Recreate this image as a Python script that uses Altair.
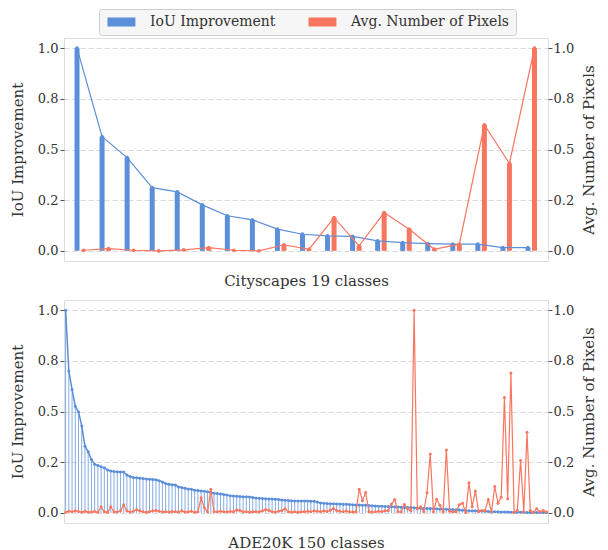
import altair as alt
import pandas as pd

BLUE = "#5b8fd9"
RED = "#f8765f"
FONT = "DejaVu Serif"
TXT = "#333333"

series_names = ["IoU Improvement", "Avg. Number of Pixels"]
panel_titles = ["Cityscapes 19 classes", "ADE20K 150 classes"]
yticks = [0, 0.25, 0.5, 0.75, 1.0]

city_iou = [1.0, 0.563, 0.46, 0.312, 0.291, 0.227, 0.173, 0.153, 0.107, 0.082,
            0.074, 0.071, 0.049, 0.041, 0.036, 0.033, 0.033, 0.016, 0.016]
city_pix = [0.003, 0.011, 0.003, 0.0, 0.005, 0.016, 0.003, 0.0, 0.03, 0.008,
            0.164, 0.025, 0.189, 0.107, 0.008, 0.033, 0.622, 0.431, 1.0]

ade_iou = [1.0, 0.70, 0.608, 0.526, 0.498, 0.429, 0.329, 0.301, 0.263, 0.24,
           0.234, 0.227, 0.222, 0.212, 0.207, 0.204, 0.203, 0.202, 0.201, 0.187,
           0.179, 0.175, 0.173, 0.171, 0.170, 0.167, 0.166, 0.165, 0.163, 0.158,
           0.152, 0.145, 0.141, 0.139, 0.137, 0.128, 0.125, 0.121, 0.118, 0.116,
           0.112, 0.110, 0.108, 0.106, 0.104, 0.101, 0.097, 0.095, 0.093, 0.091,
           0.088, 0.085, 0.083, 0.082, 0.081, 0.080, 0.079, 0.078, 0.076, 0.073,
           0.072, 0.071, 0.070, 0.069, 0.068, 0.067, 0.066, 0.064, 0.062, 0.061,
           0.060, 0.059, 0.058, 0.058, 0.058, 0.058, 0.057, 0.057, 0.053, 0.049,
           0.047, 0.046, 0.045, 0.045, 0.044, 0.044, 0.043, 0.042, 0.041, 0.040,
           0.039, 0.039, 0.038, 0.037, 0.036, 0.035, 0.034, 0.033, 0.033, 0.032,
           0.031, 0.030, 0.030, 0.029, 0.028, 0.027, 0.027, 0.026, 0.025, 0.024,
           0.023, 0.022, 0.021, 0.021, 0.020, 0.020, 0.019, 0.018, 0.018, 0.017,
           0.016, 0.015, 0.014, 0.013, 0.012, 0.011, 0.011, 0.010, 0.009, 0.009,
           0.008, 0.007, 0.006, 0.005, 0.005, 0.004, 0.004, 0.004, 0.003, 0.003,
           0.003, 0.003, 0.003, 0.002, 0.002, 0.002, 0.002, 0.002, 0.002, 0.002]
ade_pix = [0.003, 0.008, 0.005, 0.01, 0.007, 0.003, 0.008, 0.003, 0.005, 0.007,
           0.003, 0.03, 0.005, 0.003, 0.03, 0.006, 0.004, 0.01, 0.04, 0.01,
           0.004, 0.008, 0.015, 0.01, 0.005, 0.003, 0.006, 0.01, 0.012, 0.008,
           0.005, 0.006, 0.004, 0.007, 0.005, 0.004, 0.01, 0.004, 0.006, 0.008,
           0.003, 0.005, 0.074, 0.025, 0.004, 0.117, 0.005, 0.006, 0.008, 0.006,
           0.005, 0.007, 0.006, 0.014, 0.012, 0.006, 0.005, 0.004, 0.006, 0.005,
           0.006, 0.01, 0.016, 0.012, 0.006, 0.004, 0.008, 0.012, 0.02, 0.006,
           0.004, 0.005, 0.003, 0.006, 0.005, 0.008, 0.006, 0.01, 0.008, 0.006,
           0.01, 0.007, 0.013, 0.022, 0.012, 0.008, 0.006, 0.009, 0.005, 0.004,
           0.006, 0.117, 0.06, 0.1, 0.006, 0.004, 0.005, 0.008, 0.006, 0.01,
           0.012, 0.044, 0.066, 0.005, 0.005, 0.041, 0.02, 0.01, 1.0, 0.02,
           0.03, 0.005, 0.099, 0.29, 0.005, 0.067, 0.038, 0.005, 0.31, 0.008,
           0.005, 0.005, 0.04, 0.048, 0.002, 0.148, 0.03, 0.108, 0.005, 0.012,
           0.012, 0.066, 0.005, 0.13, 0.048, 0.077, 0.569, 0.07, 0.69, 0.002,
           0.012, 0.258, 0.005, 0.398, 0.012, 0.002, 0.02, 0.005, 0.012, 0.005]

W, H = 484, 223
label_expr = "datum.value == 0.25 ? '0.2' : format(datum.value, '.1f')"
ys = alt.Scale(domain=[-0.05, 1.05], nice=False, zero=False)


def yaxis(title, orient):
    left = orient == "left"
    return alt.Axis(title=title, orient=orient, values=yticks, labelExpr=label_expr,
                    grid=left, gridDash=[5, 3], gridColor="#d9d9d9",
                    gridWidth=1, domain=False, ticks=True, tickSize=4, tickColor="#555555",
                    labelFont=FONT, labelFontSize=13, labelColor=TXT,
                    labelPadding=2 if left else 1,
                    titleFont=FONT, titleFontSize=15, titleFontWeight="normal",
                    titleColor=TXT, titlePadding=12 if left else 8, titleAngle=270,
                    titleBaseline="bottom" if left else "top")


def xaxis(title):
    return alt.Axis(title=title, labels=False, ticks=False, domain=False, grid=False,
                    titleFont=FONT, titleFontSize=15, titleFontWeight="normal",
                    titleColor=TXT, titlePadding=12)


# ---------- Cityscapes panel ----------
top_df = pd.DataFrame({"i": list(range(len(city_iou))), "iou": city_iou, "pix": city_pix})
xs_top = alt.Scale(domain=[-0.45, 18.47], nice=False, zero=False)
tbase = alt.Chart(top_df)

bars = tbase.transform_fold(["iou", "pix"], as_=["key", "val"]).transform_calculate(
    series=f"datum.key == 'iou' ? '{series_names[0]}' : '{series_names[1]}'",
    xp="datum.key == 'iou' ? datum.i - 0.13 : datum.i + 0.13",
).mark_bar(width=5).encode(
    x=alt.X("xp:Q", scale=xs_top, axis=xaxis(panel_titles[0])),
    y=alt.Y("val:Q", scale=ys, axis=yaxis("IoU Improvement", "left")),
    y2=alt.datum(0),
    color=alt.Color("series:N", scale=alt.Scale(domain=series_names, range=[BLUE, RED]),
                    legend=alt.Legend(title=None, orient="none", legendX=35, legendY=-29,
                                      direction="horizontal",
                                      symbolType="M-1,-1L5.2,-1L5.2,1L-1,1Z",
                                      symbolSize=81, symbolStrokeWidth=0, symbolOpacity=1,
                                      labelFont=FONT, labelFontSize=14, labelColor=TXT,
                                      labelOffset=31, columnPadding=30, padding=6,
                                      strokeColor="#cccccc", fillColor="#f6f6f6",
                                      cornerRadius=3)),
)

blue_line = tbase.transform_calculate(xb="datum.i - 0.13").mark_line(
    color=BLUE, strokeWidth=1.2,
    point=alt.OverlayMarkDef(color=BLUE, size=14, filled=True, opacity=1),
).encode(
    x=alt.X("xb:Q", scale=xs_top, axis=xaxis(panel_titles[0])),
    y=alt.Y("iou:Q", scale=ys, axis=None),
)

red_line = tbase.transform_calculate(xr="datum.i + 0.13").mark_line(
    color=RED, strokeWidth=1.2,
    point=alt.OverlayMarkDef(color=RED, size=14, filled=True, opacity=1),
).encode(
    x=alt.X("xr:Q", scale=xs_top, axis=xaxis(panel_titles[0])),
    y=alt.Y("pix:Q", scale=ys, axis=yaxis("Avg. Number of Pixels", "right")),
)

top = alt.layer(bars, blue_line, red_line).resolve_scale(y="independent").properties(
    width=W, height=H)

# ---------- ADE20K panel ----------
bot_df = pd.DataFrame({"i": list(range(len(ade_iou))), "iou": ade_iou, "pix": ade_pix})
xs_bot = alt.Scale(domain=[-0.5, 149.5], nice=False, zero=False)
bbase = alt.Chart(bot_df)

stems = bbase.mark_rule(color=BLUE, strokeWidth=1, opacity=0.75).encode(
    x=alt.X("i:Q", scale=xs_bot, axis=xaxis(panel_titles[1])),
    y=alt.Y("iou:Q", scale=ys, axis=yaxis("IoU Improvement", "left")),
    y2=alt.datum(0),
)
b_line = bbase.mark_line(
    color=BLUE, strokeWidth=1.5,
    point=alt.OverlayMarkDef(color=BLUE, size=9, filled=True, opacity=1),
).encode(
    x=alt.X("i:Q", scale=xs_bot, axis=xaxis(panel_titles[1])),
    y=alt.Y("iou:Q", scale=ys, axis=None),
)
r_line = bbase.mark_line(
    color=RED, strokeWidth=1.2,
    point=alt.OverlayMarkDef(color=RED, size=9, filled=True, opacity=1),
).encode(
    x=alt.X("i:Q", scale=xs_bot, axis=xaxis(panel_titles[1])),
    y=alt.Y("pix:Q", scale=ys, axis=yaxis("Avg. Number of Pixels", "right")),
)

bottom = alt.layer(stems, b_line, r_line).resolve_scale(y="independent").properties(
    width=W, height=H)

chart = alt.vconcat(top, bottom, spacing=10).resolve_scale(color="independent").properties(
    padding={"left": 1, "top": 0, "right": 0, "bottom": 0}
).configure_view(fill="#f4f4f4", stroke=None).configure(background="white")

chart.save("out.html", embed_options={"renderer": "svg", "actions": False})
